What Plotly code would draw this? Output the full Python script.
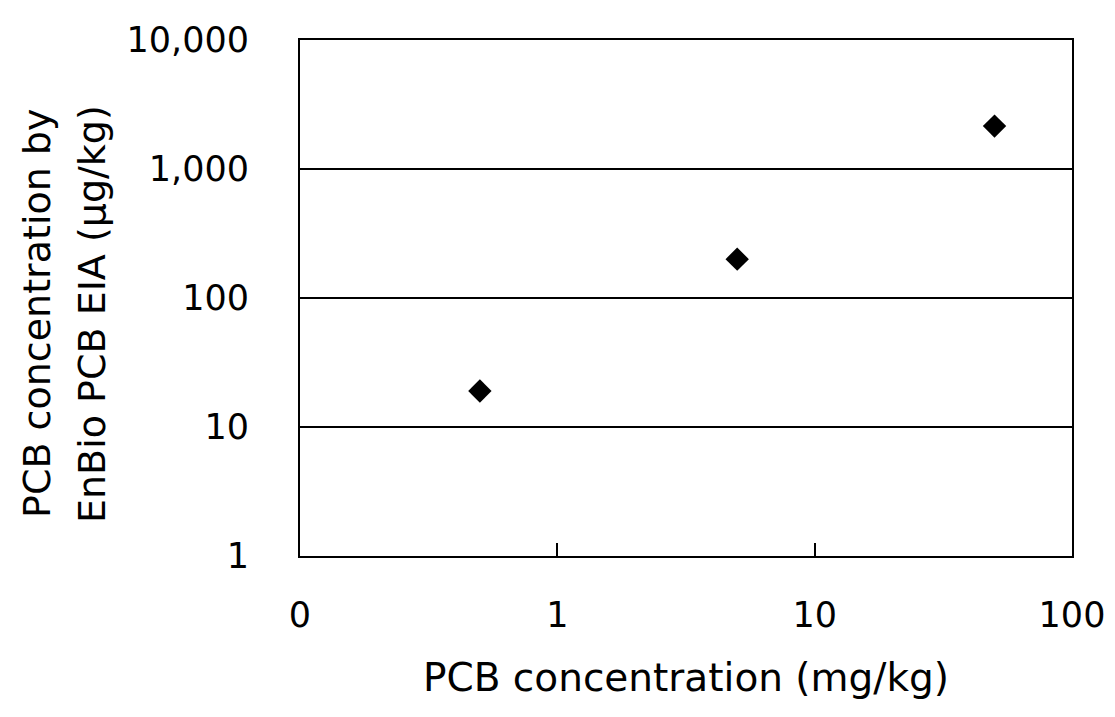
import plotly.graph_objects as go

x_vals = [0.5, 5, 50]
y_vals = [19, 200, 2150]
x_tickvals = [0.1, 1, 10, 100]
x_ticktext = ["0", "1", "10", "100"]
y_tickvals = [1, 10, 100, 1000, 10000]
y_ticktext = ["1", "10", "100", "1,000", "10,000"]
y_title_lines = ["PCB concentration by", "EnBio PCB EIA (μg/kg)"]

FONT = "DejaVu Sans, Liberation Sans, Arial, sans-serif"

fig = go.Figure()
fig.add_trace(go.Scatter(
    x=x_vals, y=y_vals, mode="markers",
    marker=dict(symbol="diamond", size=18, color="black"),
    showlegend=False,
))

fig.update_layout(
    width=1115, height=717,
    margin=dict(l=292, r=51, t=30, b=169),
    paper_bgcolor="white", plot_bgcolor="white",
    font=dict(family=FONT, size=35, color="black"),
    xaxis=dict(
        type="log", range=[-1, 2],
        tickvals=x_tickvals, ticktext=x_ticktext,
        tickfont=dict(size=35),
        ticks="inside", ticklen=13, tickwidth=2, tickcolor="black",
        showgrid=False, zeroline=False,
        showline=True, linecolor="black", linewidth=2, mirror=True,
        ticklabelstandoff=27,
        title=dict(text="PCB concentration (mg/kg)", font=dict(size=39), standoff=30),
    ),
    yaxis=dict(
        type="log", range=[0, 4],
        tickvals=y_tickvals, ticktext=y_ticktext,
        tickfont=dict(size=35),
        ticks="", showgrid=True, gridcolor="black", gridwidth=2,
        zeroline=False,
        showline=True, linecolor="black", linewidth=2, mirror=True,
        ticklabelstandoff=42,
    ),
    annotations=[
        dict(
            text=y_title_lines[0],
            xref="paper", yref="paper", x=(29 - 292) / 772, y=0.469,
            xanchor="center", yanchor="middle",
            textangle=-90, showarrow=False,
            font=dict(family=FONT, size=38, color="black"),
        ),
        dict(
            text=y_title_lines[1],
            xref="paper", yref="paper", x=(84 - 292) / 772, y=0.469,
            xanchor="center", yanchor="middle",
            textangle=-90, showarrow=False,
            font=dict(family=FONT, size=38, color="black"),
        ),
    ],
)

fig.write_html("out.html")
